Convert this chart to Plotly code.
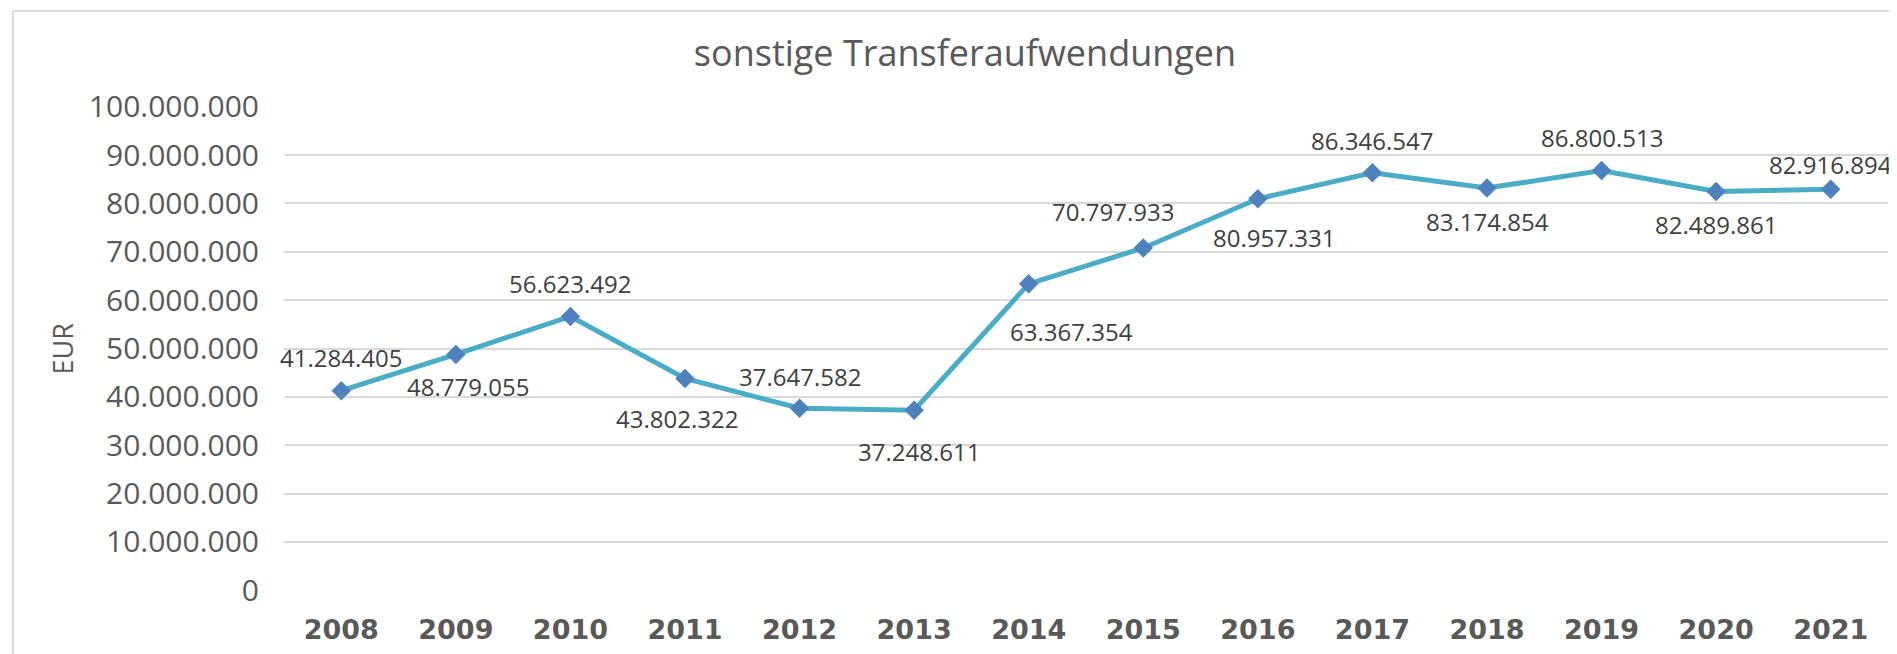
import plotly.graph_objects as go

# data
years = ["2008", "2009", "2010", "2011", "2012", "2013", "2014",
         "2015", "2016", "2017", "2018", "2019", "2020", "2021"]
amounts = [41284405, 48779055, 56623492, 43802322, 37647582, 37248611, 63367354,
           70797933, 80957331, 86346547, 83174854, 86800513, 82489861, 82916894]
y_ticks = [0, 10000000, 20000000, 30000000, 40000000, 50000000,
           60000000, 70000000, 80000000, 90000000, 100000000]

# label nudges in px (dx right, dy up), like the manually placed Excel labels
label_shift = [(0, 33), (12, -32), (0, 33), (-8, -40), (0, 32), (5, -41), (43, -48),
               (-30, 36), (16, -39), (0, 32), (0, -33), (0, 33), (0, -33), (0, 25)]

COLORS = {
    'line': '#4BACC6',
    'marker': '#4F81BD',
    'text': '#595959',
    'label': '#404040',
    'grid': '#D9D9D9',
}

# page body has an 8px margin, so the figure is drawn 8px smaller
W, H = 1889, 646


def de_number(v):
    return f"{v:,}".replace(",", ".")


fig = go.Figure()
fig.add_trace(go.Scatter(
    x=years, y=amounts, mode="lines+markers",
    line=dict(color=COLORS['line'], width=5),
    marker=dict(symbol="diamond", size=15, color=COLORS['marker'], line=dict(width=0)),
    hoverinfo="skip", showlegend=False,
))

for i, (val, (dx, dy)) in enumerate(zip(amounts, label_shift)):
    fig.add_annotation(x=i, y=val, text=de_number(val), showarrow=False,
                       xshift=dx, yshift=dy, xanchor="center", yanchor="middle",
                       font=dict(family="Open Sans", size=24, color=COLORS['label']))

# y axis title
fig.add_annotation(xref="paper", yref="paper", x=-0.1378, y=0.5, text="EUR",
                   textangle=-90, showarrow=False, xanchor="center", yanchor="middle",
                   font=dict(family="Open Sans", size=27, color=COLORS['text']))

# chart-area frame (left and top edges visible)
fig.add_shape(type="line", xref="paper", yref="paper", x0=-0.169, x1=-0.169, y0=-0.2, y1=1.196,
              line=dict(color=COLORS['grid'], width=2))
fig.add_shape(type="line", xref="paper", yref="paper", x0=-0.169, x1=1.2, y0=1.196, y1=1.196,
              line=dict(color=COLORS['grid'], width=2))

fig.update_layout(
    width=W, height=H,
    paper_bgcolor="white", plot_bgcolor="white",
    separators=",.",
    margin=dict(l=276, r=9, t=98, b=63),
    title=dict(text="sonstige Transferaufwendungen", x=957 / W, xanchor="center",
               xref="container", y=1 - 45 / H, yanchor="middle", yref="container",
               font=dict(family="Open Sans", size=36, color=COLORS['text'])),
    xaxis=dict(type="category", range=[-0.5, 13.5], showgrid=False, zeroline=False,
               showline=False, ticks="", ticklabelstandoff=20,
               tickfont=dict(family="DejaVu Sans", size=27, color=COLORS['text'], weight="bold")),
    yaxis=dict(range=[-150000, 100150000], tickvals=y_ticks, tickformat=",d",
               showgrid=True, gridcolor=COLORS['grid'], gridwidth=1.5,
               zeroline=False, showline=False, ticks="", ticklabelstandoff=24,
               tickfont=dict(family="Open Sans", size=30, color=COLORS['text'])),
)

fig.write_html("out.html")
